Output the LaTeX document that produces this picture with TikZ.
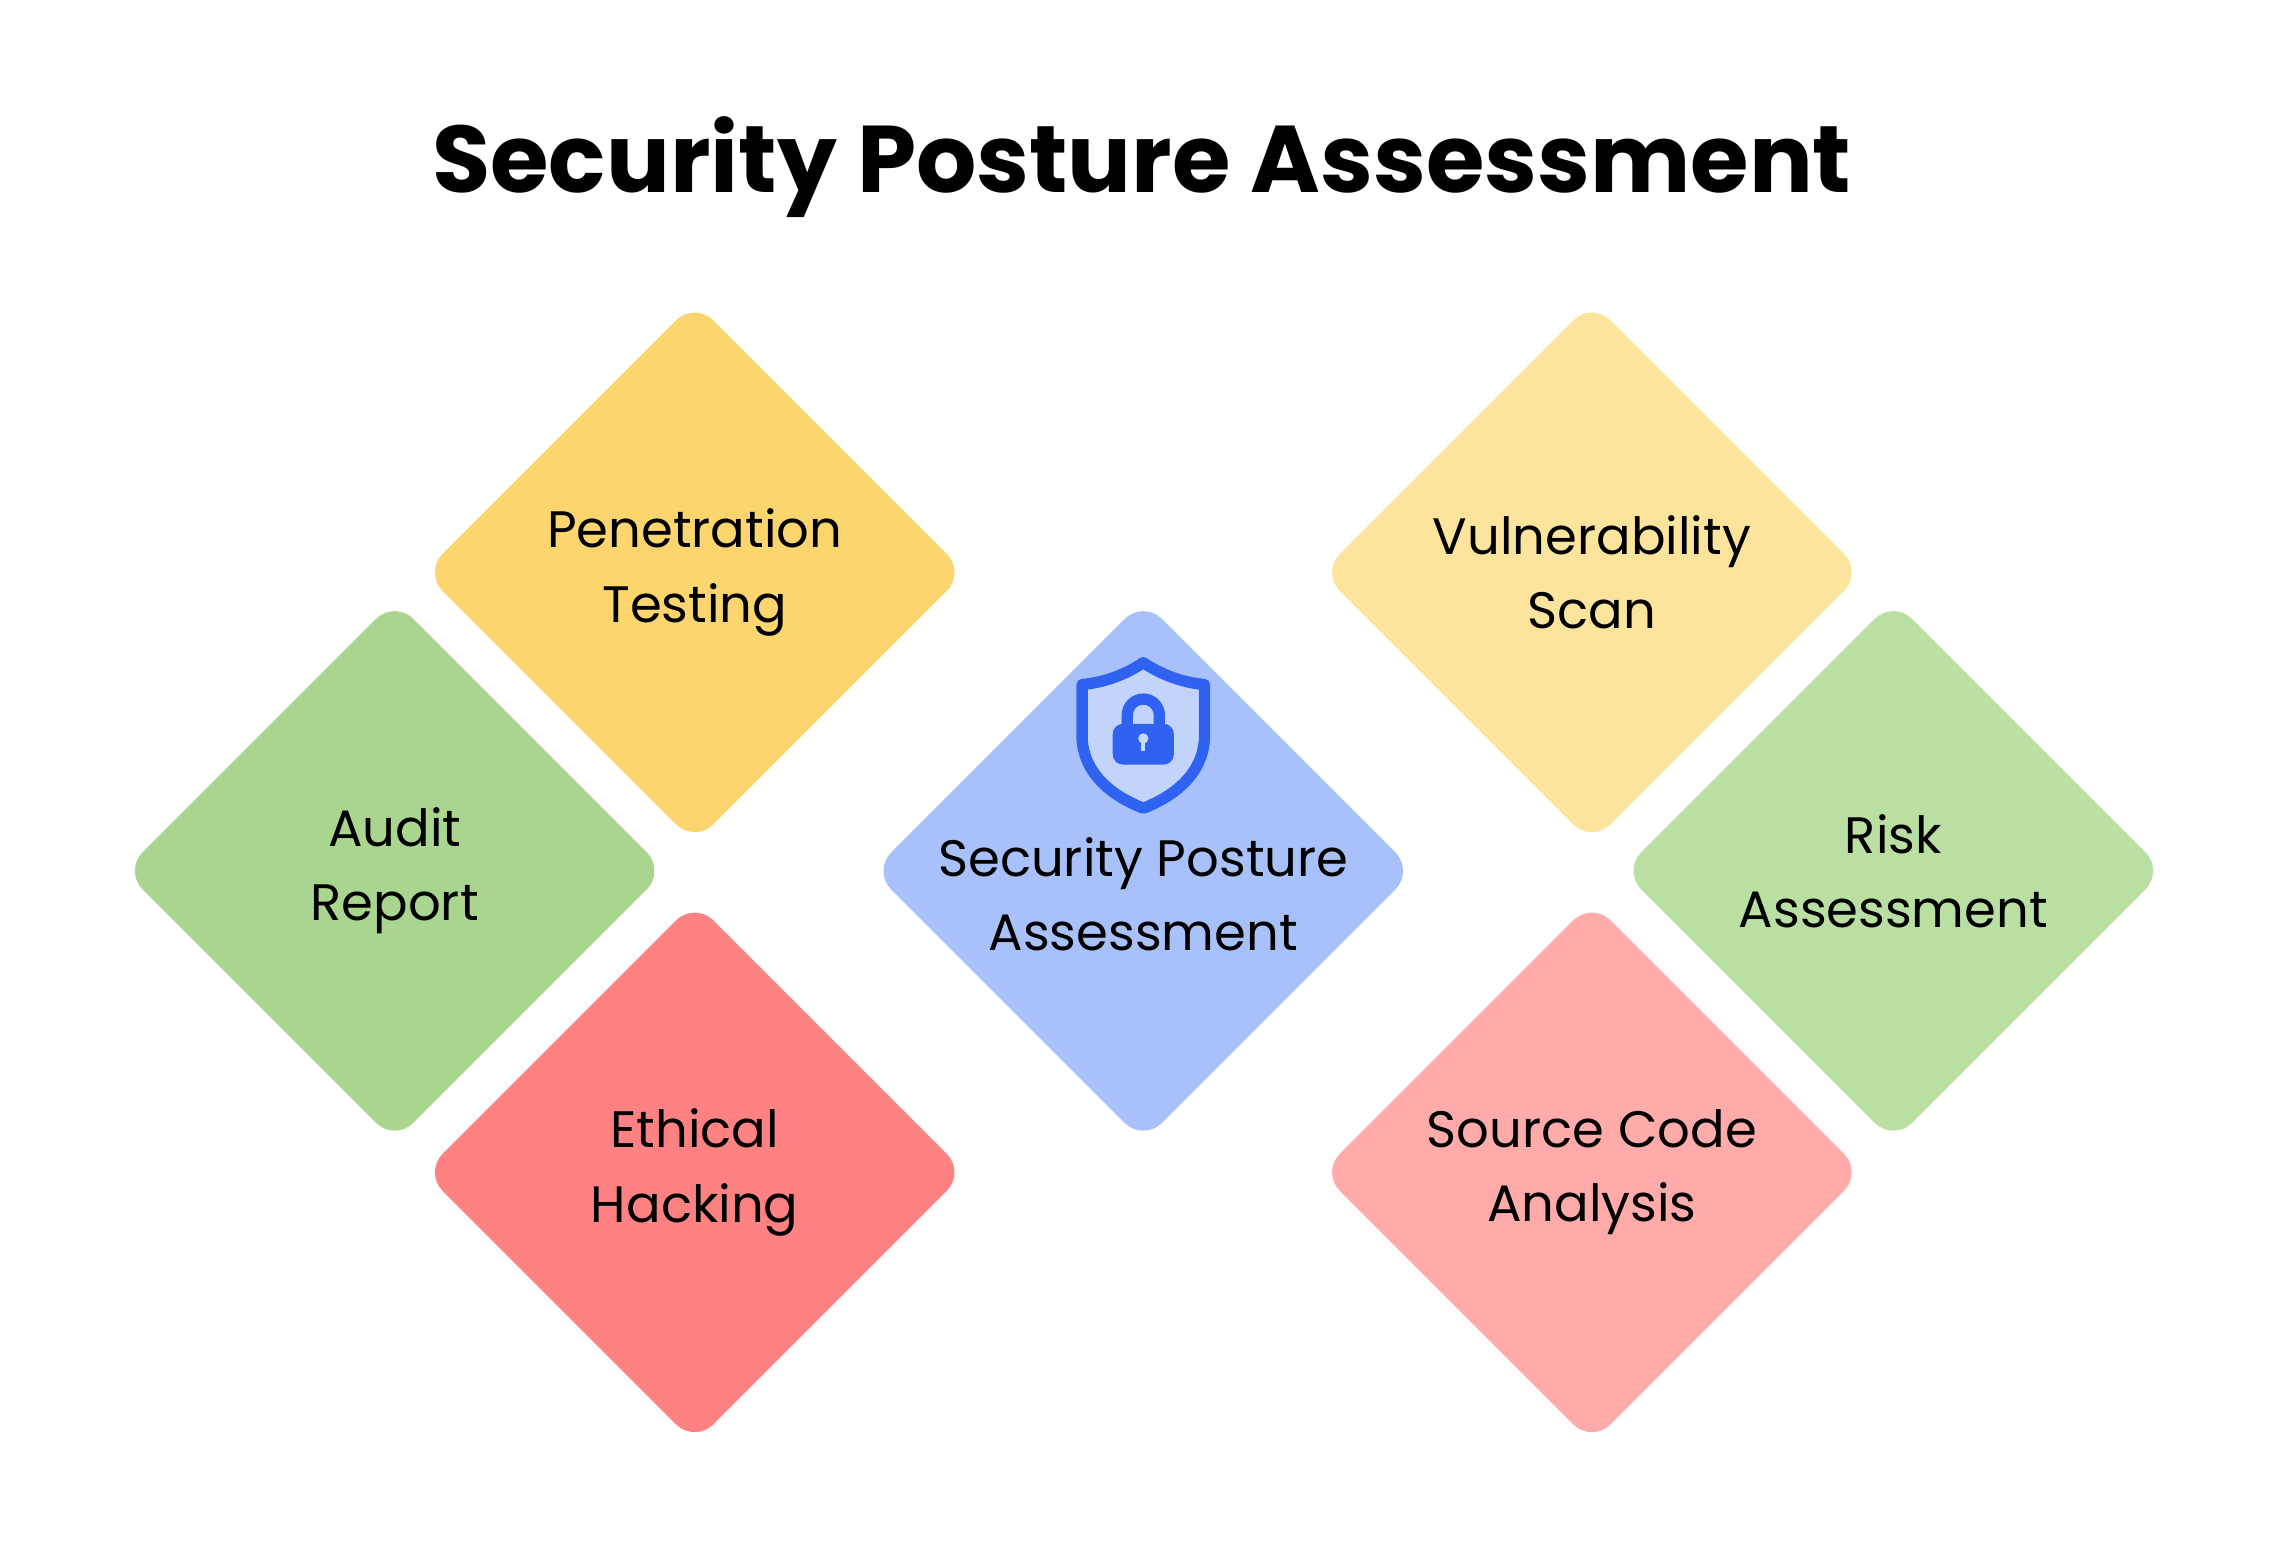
\documentclass[tikz,border=0pt]{standalone}
\usepackage{fontspec}
\setmainfont{Poppins}
\usetikzlibrary{shapes.geometric}
\definecolor{yel}{HTML}{FDD56E}
\definecolor{lyel}{HTML}{FDE49C}
\definecolor{grn}{HTML}{AAD58E}
\definecolor{lgrn}{HTML}{B9E0A2}
\definecolor{red1}{HTML}{FF8282}
\definecolor{lred}{HTML}{FFABAA}
\definecolor{blu}{HTML}{A9C1FA}
\definecolor{icon}{HTML}{2F62F0}
\begin{document}
\begin{tikzpicture}[x=0.01cm,y=-0.01cm,
  dia/.style={diamond,aspect=1,minimum width=3.72cm,minimum height=3.72cm,inner sep=0pt,
    rounded corners=0.18cm},
  lab/.style={align=center,font=\fontsize{10}{14.5}\selectfont,text=black}]
\useasboundingbox (0,0) rectangle (1560,1071);
\fill[white] (0,0) rectangle (1560,1071);
\node[font=\bfseries\fontsize{18.5}{22}\selectfont] (title) at (784,115) {Security Posture Assessment};
\node[dia,fill=yel] (pen) at (477,393) {};
\node[dia,fill=grn] (aud) at (271,598) {};
\node[dia,fill=red1] (eth) at (477,805) {};
\node[dia,fill=blu] (spa) at (785,598) {};
\node[dia,fill=lyel] (vul) at (1093,393) {};
\node[dia,fill=lgrn] (risk) at (1300,598) {};
\node[dia,fill=lred] (src) at (1093,805) {};
\node[lab] (pent) at (pen) {Penetration\\Testing};
\node[lab] (audt) at (aud) {Audit\\Report};
\node[lab] (etht) at (eth) {Ethical\\Hacking};
\node[lab] (spat) at (785,614) {Security Posture\\Assessment};
\node[lab] (vult) at (vul) {Vulnerability\\Scan};
\node[lab] (riskt) at (risk) {Risk\\Assessment};
\node[lab] (srct) at (src) {Source Code\\Analysis};
% shield icon
\coordinate (sh) at (785,503);
\begin{scope}[shift={(sh)}]
\draw[icon,line width=2.2pt,fill=blu!70!white,line join=round]
  (0,-48) .. controls (15,-38) and (30,-34) .. (42,-33)
  -- (42,5) .. controls (40,30) and (20,44) .. (0,52)
  .. controls (-20,44) and (-40,30) .. (-42,5) -- (-42,-33)
  .. controls (-30,-34) and (-15,-38) .. (0,-48) -- cycle;
\draw[icon,line width=2.2pt] (-11,-5) -- (-11,-12) arc (180:360:11) -- (11,-5);
\fill[icon,rounded corners=2pt] (-21,-6) rectangle (21,22);
\fill[blu!60!white] (0,4) circle (3.5);
\fill[blu!60!white] (-1.5,5) rectangle (1.5,13);
\end{scope}
\end{tikzpicture}
\end{document}
